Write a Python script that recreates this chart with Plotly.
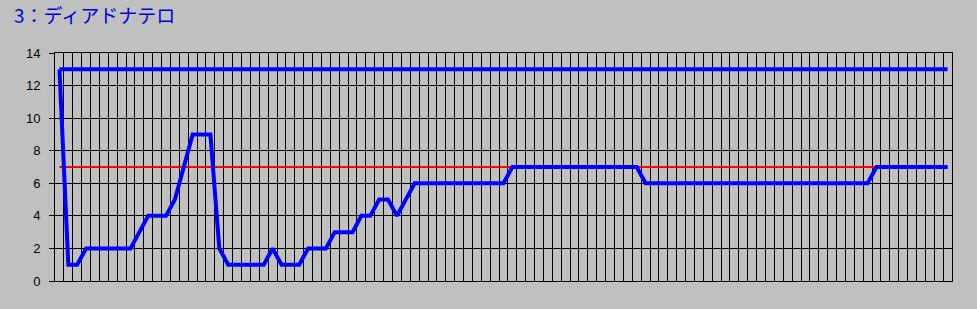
import plotly.graph_objects as go

# 101 race points (categories)
n_points = 101
categories = list(range(n_points))

# Upper blue series (field size)
field_size = [13] * n_points

# Red reference line
reference = [7] * n_points

# Lower blue series (position)
position = (
    [13, 1, 1]
    + [2] * 6          # 3..8
    + [3]              # 9
    + [4] * 3          # 10..12
    + [5, 7]           # 13, 14
    + [9] * 3          # 15..17
    + [2]              # 18
    + [1] * 5          # 19..23
    + [2]              # 24
    + [1] * 3          # 25..27
    + [2] * 3          # 28..30
    + [3] * 3          # 31..33
    + [4] * 2          # 34..35
    + [5] * 2          # 36..37
    + [4]              # 38
    + [5]              # 39
    + [6] * 11         # 40..50
    + [7] * 15         # 51..65
    + [6] * 26         # 66..91
    + [7] * 9          # 92..100
)

y_ticks = [0, 2, 4, 6, 8, 10, 12, 14]
title_text = "3：ディアドナテロ"

fig = go.Figure()
fig.add_trace(go.Scatter(x=categories, y=reference, mode="lines",
                         line=dict(color="#FF0000", width=2), hoverinfo="skip"))
fig.add_trace(go.Scatter(x=categories, y=field_size, mode="lines",
                         line=dict(color="#0000FF", width=4), hoverinfo="skip"))
fig.add_trace(go.Scatter(x=categories, y=position, mode="lines",
                         line=dict(color="#0000FF", width=4), hoverinfo="skip"))

fig.update_layout(
    width=977, height=309,
    margin=dict(l=55, r=25, t=53, b=28),
    paper_bgcolor="#C0C0C0",
    plot_bgcolor="#C0C0C0",
    showlegend=False,
    title=dict(text=title_text, x=14 / 977, xanchor="left", xref="container",
               y=1 - 16 / 309, yanchor="middle", yref="container",
               font=dict(family="Noto Sans CJK JP", size=19, color="#0000DD")),
    font=dict(family="Liberation Sans, Arial", size=13, color="#000000"),
)
fig.update_xaxes(
    range=[-0.5, n_points - 0.5],
    tick0=-0.5, dtick=1,
    showgrid=True, gridcolor="#000000", gridwidth=1,
    showticklabels=False, ticks="",
    showline=True, linecolor="#000000", linewidth=1, mirror=True,
    zeroline=False,
)
fig.update_yaxes(
    range=[0, 14],
    tickvals=y_ticks, ticktext=[str(v) for v in y_ticks],
    showgrid=True, gridcolor="#000000", gridwidth=1,
    ticks="outside", ticklen=5, tickcolor="#000000",
    ticklabelstandoff=6,
    showline=True, linecolor="#000000", linewidth=1, mirror=True,
    zeroline=False,
)

fig.write_html("out.html")
